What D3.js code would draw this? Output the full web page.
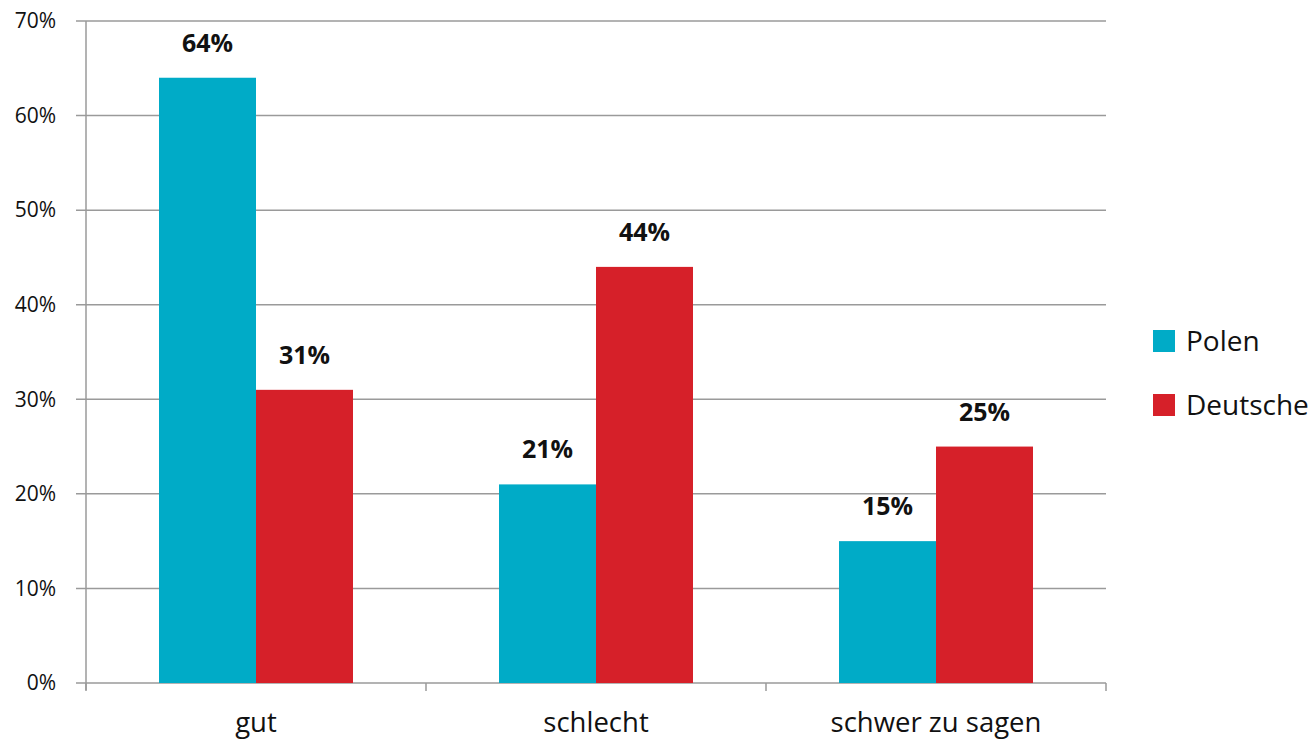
<!DOCTYPE html>
<html>
<head>
<meta charset="utf-8">
<script src="https://cdn.jsdelivr.net/npm/d3@7"></script>
<style>
  body { margin: 0; background: #fff; }
  svg { display: block; font-family: "Open Sans", "Noto Sans", sans-serif; }
</style>
</head>
<body>
<div id="chart"></div>
<script>
const categories = ["gut", "schlecht", "schwer zu sagen"];
const seriesNames = ["Polen", "Deutsche"];
const polen = [64, 21, 15];
const deutsche = [31, 44, 25];
const yTicks = [0, 10, 20, 30, 40, 50, 60, 70];
const colors = ["#00abc7", "#d62029"];

const width = 1315;
const height = 740;
const marginTop = 21;
const marginRight = 209;
const marginBottom = 57;
const marginLeft = 86;

const svg = d3.select("#chart").append("svg")
    .attr("width", width)
    .attr("height", height);

// x scale for categories
const x = d3.scaleBand()
    .domain(categories)
    .range([marginLeft, width - marginRight])
    .paddingInner(0)
    .paddingOuter(0);

// inner scale for the two series
const x1 = d3.scaleBand()
    .domain(seriesNames)
    .range([0, x.bandwidth()])
    .paddingInner(0)
    .paddingOuter(0.7526);

const y = d3.scaleLinear()
    .domain([0, 70])
    .range([height - marginBottom, marginTop]);

// grid lines
svg.append("g")
    .selectAll("line")
    .data(yTicks)
    .join("line")
      .attr("x1", marginLeft - 10)
      .attr("x2", width - marginRight)
      .attr("y1", d => y(d))
      .attr("y2", d => y(d))
      .attr("stroke", "#9a9a9a")
      .attr("stroke-width", 1.5);

// y axis labels
svg.append("g")
    .selectAll("text")
    .data(yTicks)
    .join("text")
      .attr("x", marginLeft - 30)
      .attr("y", d => y(d))
      .attr("dy", "0.35em")
      .attr("text-anchor", "end")
      .attr("font-size", 21)
      .attr("fill", "#111")
      .text(d => d + "%");

// bars
const rows = categories.map((c, i) => ({cat: c, values: [polen[i], deutsche[i]]}));

const groups = svg.append("g")
    .selectAll("g")
    .data(rows)
    .join("g")
      .attr("transform", d => `translate(${x(d.cat)},0)`);

groups.selectAll("rect")
    .data(d => d.values.map((v, j) => ({name: seriesNames[j], value: v, j})))
    .join("rect")
      .attr("x", d => x1(d.name))
      .attr("y", d => y(d.value))
      .attr("width", x1.bandwidth())
      .attr("height", d => y(0) - y(d.value))
      .attr("fill", d => colors[d.j]);

groups.selectAll("text")
    .data(d => d.values.map((v, j) => ({name: seriesNames[j], value: v})))
    .join("text")
      .attr("x", d => x1(d.name) + x1.bandwidth() / 2)
      .attr("y", d => y(d.value) - 26)
      .attr("text-anchor", "middle")
      .attr("font-size", 25)
      .attr("font-weight", "bold")
      .attr("fill", "#111")
      .text(d => d.value + "%");

// y axis line
svg.append("line")
    .attr("x1", marginLeft).attr("x2", marginLeft)
    .attr("y1", marginTop).attr("y2", y(0) + 7)
    .attr("stroke", "#9a9a9a")
    .attr("stroke-width", 1.5);

// category ticks
const bounds = categories.map(c => x(c)).concat([x(categories[categories.length - 1]) + x.bandwidth()]);
svg.append("g")
    .selectAll("line")
    .data(bounds)
    .join("line")
      .attr("x1", d => d).attr("x2", d => d)
      .attr("y1", y(0)).attr("y2", y(0) + 8)
      .attr("stroke", "#9a9a9a")
      .attr("stroke-width", 1.5);

// category labels
svg.append("g")
    .selectAll("text")
    .data(categories)
    .join("text")
      .attr("x", d => x(d) + x.bandwidth() / 2)
      .attr("y", y(0) + 49)
      .attr("text-anchor", "middle")
      .attr("font-size", 27.5)
      .attr("fill", "#111")
      .text(d => d);

// legend
const legend = svg.append("g")
    .selectAll("g")
    .data(seriesNames)
    .join("g")
      .attr("transform", (d, i) => `translate(1153,${330 + i * 64})`);

legend.append("rect")
    .attr("width", 22)
    .attr("height", 22)
    .attr("fill", (d, i) => colors[i]);

legend.append("text")
    .attr("x", 33)
    .attr("y", 11)
    .attr("dy", "0.35em")
    .attr("font-size", 28)
    .attr("fill", "#111")
    .text(d => d);
</script>
</body>
</html>
